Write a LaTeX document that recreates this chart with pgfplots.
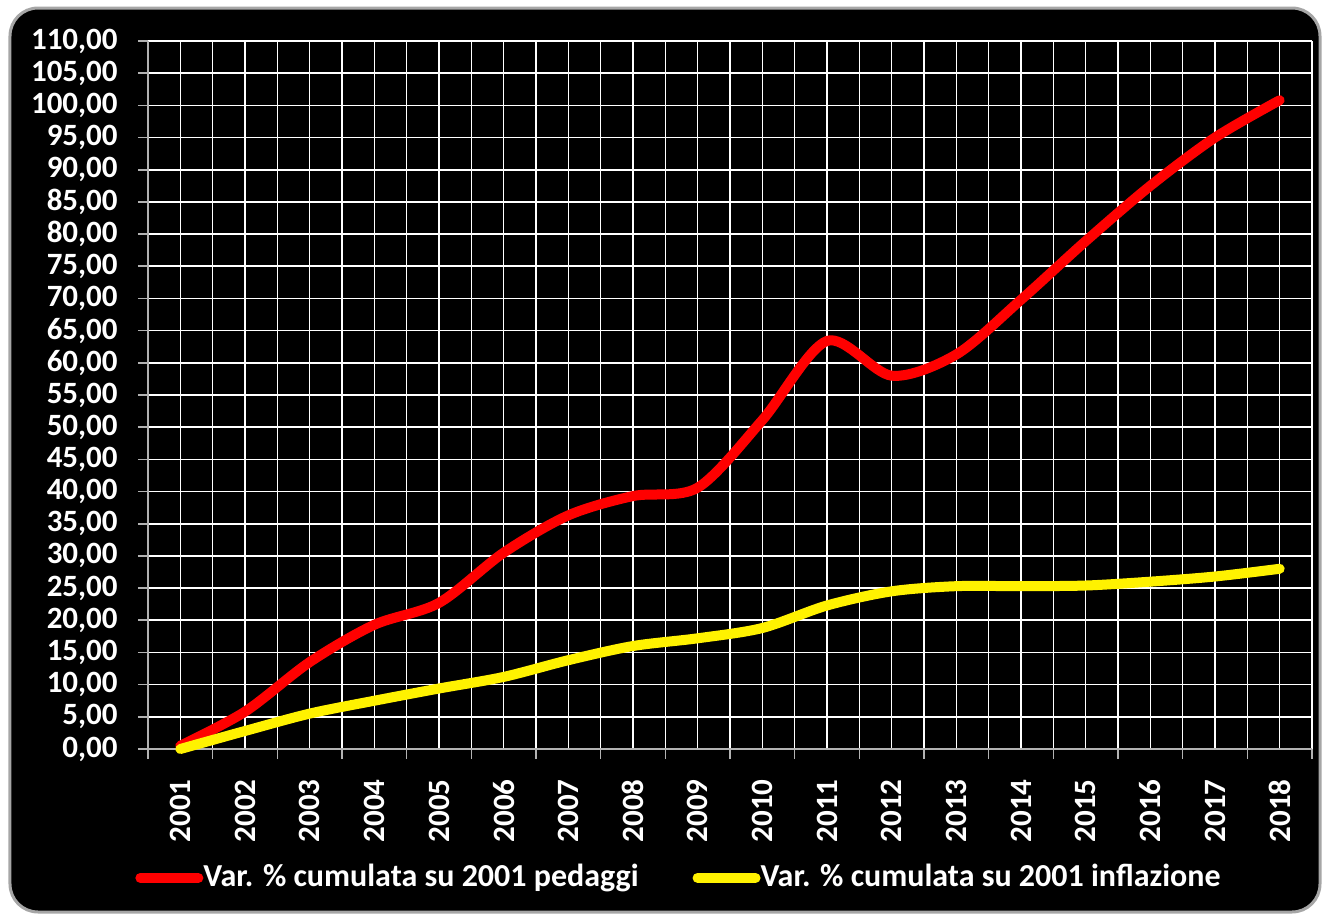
\documentclass[border=0pt]{standalone}
\usepackage{pgfplots}
\pgfplotsset{compat=1.18}
\usepackage{fontspec}
\setmainfont{Carlito}

\begin{document}
\fontsize{15}{18}\selectfont\bfseries
\begin{tikzpicture}
% page and rounded black panel
\fill[white] (-74pt,-84.5pt) rectangle (588pt,374.5pt);
\draw[gray!70, line width=1.5pt, fill=black, rounded corners=14pt]
  (-69pt,-81.5pt) rectangle (586pt,370.5pt);
\begin{axis}[
  at={(0pt,0pt)}, anchor=south west,
  scale only axis, width=582pt, height=354pt,
  xmin=-0.5, xmax=17.5, ymin=0, ymax=110,
  xtick={0,...,17},
  xticklabels={2001,2002,2003,2004,2005,2006,2007,2008,2009,2010,2011,2012,2013,2014,2015,2016,2017,2018},
  minor xtick={-0.5,0.5,...,17.5},
  ytick={0,5,...,110},
  major x tick style={draw=none},
  minor tick length=5pt, major tick length=5pt,
  tick align=outside,
  tick style={gray!60, line width=0.8pt},
  xmajorgrids, xminorgrids, ymajorgrids,
  major grid style={white, line width=0.8pt},
  minor grid style={white, line width=0.8pt},
  axis x line*=bottom, axis y line*=left,
  axis line style={gray!60, line width=0.8pt, -},
  ticklabel style={white, font=\fontsize{15.5}{18}\selectfont\bfseries},
  xticklabel style={rotate=90, anchor=east, xshift=-5pt},
  yticklabel style={xshift=-5pt, /pgf/number format/.cd, fixed, fixed zerofill, precision=2, use comma, assume math mode=true},
  clip=false,
  legend columns=2,
  legend style={at={(0.457,-0.182)}, anchor=center, draw=none, fill=none,
    text=white, font=\fontsize{16}{19}\selectfont\bfseries,
    /tikz/every even column/.style={column sep=25pt},
    /tikz/every odd column/.style={column sep=-2pt}},
  legend image code/.code={\draw[#1, line width=5pt, line cap=round] (0pt,0pt) -- (29pt,0pt);},
]
\addplot[red, line width=5pt, smooth, tension=0.5, line cap=round] coordinates {
  (0,0.5) (1,5.8) (2,13.5) (3,19.3) (4,22.7) (5,30.5) (6,36.3) (7,39.3) (8,40.6)
  (9,51.1) (10,63.4) (11,58.0) (12,61.3) (13,69.8) (14,78.9) (15,87.5) (16,95.0) (17,100.8)};
\addplot[yellow, line width=5pt, smooth, tension=0.5, line cap=round] coordinates {
  (0,0.0) (1,2.8) (2,5.5) (3,7.5) (4,9.4) (5,11.2) (6,13.8) (7,16.0) (8,17.2)
  (9,18.8) (10,22.3) (11,24.5) (12,25.3) (13,25.3) (14,25.4) (15,26.0) (16,26.8) (17,28.0)};
\legend{Var. \% cumulata su 2001 pedaggi, Var. \% cumulata su 2001 inflazione}
\end{axis}
\end{tikzpicture}
\end{document}
